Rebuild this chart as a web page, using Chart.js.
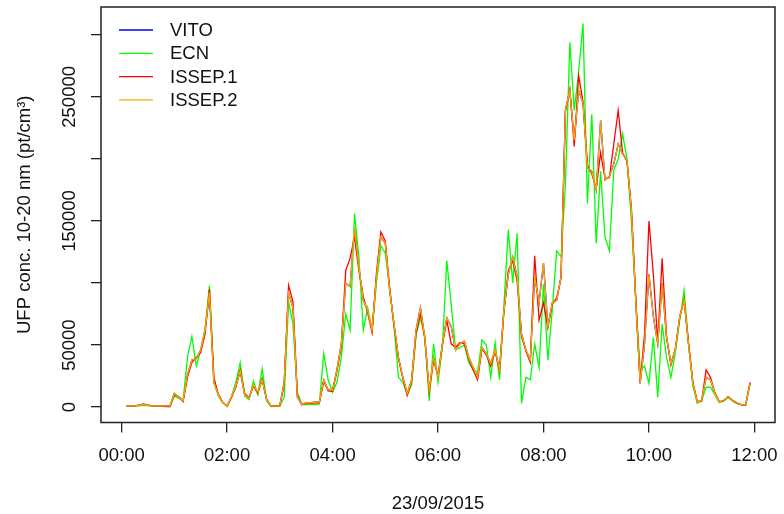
<!DOCTYPE html>
<html>
<head>
<meta charset="utf-8">
<script src="https://cdn.jsdelivr.net/npm/chart.js@4"></script>
<style>
  html, body { margin: 0; padding: 0; background: #fff; }
  #wrap { width: 784px; height: 514px; }
</style>
</head>
<body>
<div id="wrap"><canvas id="ufp" width="784" height="514"></canvas></div>
<script>
// 5-minute readings, 00:05 -> 11:55 on 23/09/2015
const startMinute = 5;
const stepMinutes = 5;

const seriesNames = ['VITO', 'ECN', 'ISSEP.1', 'ISSEP.2'];
const seriesColors = ['#0000FF', '#00FF00', '#FF0000', '#FFA500'];

const xTicks = [0, 120, 240, 360, 480, 600, 720];
const yTicks = [0, 50000, 100000, 150000, 200000, 250000, 300000];
const yTickLabels = ['0', '50000', '', '150000', '', '250000', ''];

const vito = [
  1000, 1000, 1000, 1500, 2000, 1500, 1000, 1000, 1000, 1000,
  1000, 11000, 8000, 5000, 26000, 38000, 39000, 46000, 62000, 92000,
  20000, 10000, 4000, 800, 8300, 17000, 29000, 10000, 7000, 18000,
  12000, 22000, 6000, 1000, 800, 1000, 20000, 92000, 80000, 8300,
  2000, 3500, 3500, 4000, 4000, 22000, 14000, 13500, 30000, 51000,
  100000, 97000, 145000, 113000, 86000, 78000, 62000, 105000, 137000, 132000,
  94000, 67000, 40000, 24000, 11000, 21700, 62000, 80000, 56000, 13700,
  40000, 24000, 51000, 72000, 65000, 46000, 51000, 53000, 40000, 32000,
  24000, 48000, 43000, 35000, 46000, 30000, 78000, 107000, 121000, 105000,
  59000, 46000, 38000, 105000, 84000, 116000, 65000, 84000, 86000, 105000,
  240000, 255000, 215000, 255000, 245000, 193000, 190000, 175000, 231000, 183000,
  186000, 196000, 212000, 204000, 199000, 159000, 86000, 19000, 51000, 107000,
  73000, 51000, 100000, 56000, 35000, 46000, 73000, 86000, 51000, 19000,
  4000, 5500, 24000, 22000, 11000, 4000, 5500, 8000, 5500, 3500,
  1800, 1800, 19000
];

const ecn = [
  1000, 1000, 1000, 1200, 1500, 1200, 1000, 1000, 1000, 800,
  500, 9000, 7000, 5500, 40000, 57000, 33000, 46000, 63000, 98000,
  22000, 9000, 3500, 500, 8000, 20000, 36000, 9000, 6000, 21000,
  10000, 31000, 5000, 500, 600, 800, 8000, 85000, 67000, 12000,
  2000, 2000, 2500, 2000, 2500, 43000, 22000, 12000, 20000, 40000,
  75000, 62000, 156000, 121000, 62000, 80000, 62000, 100000, 130000, 124000,
  96000, 65000, 24000, 20000, 10000, 18000, 58000, 72000, 58000, 5000,
  51000, 20000, 48000, 118000, 83000, 46000, 48000, 50000, 36000, 30000,
  28000, 54000, 50000, 24000, 52000, 22000, 82000, 143000, 100000, 140000,
  3000, 24000, 22000, 51000, 32000, 99000, 38000, 78000, 126000, 121000,
  180000, 294000, 239000, 270000, 309000, 164000, 236000, 132000, 190000, 137000,
  126000, 191000, 200000, 220000, 200000, 150000, 86000, 30000, 33000, 19000,
  56000, 8000, 67000, 40000, 24000, 44000, 70000, 94000, 51000, 17000,
  3000, 5000, 16000, 16000, 10000, 3500, 5000, 7500, 5000, 3000,
  2000, 2000, 19000
];

const issep1 = [
  1000, 1000, 1000, 1500, 2500, 1500, 1000, 1000, 1000, 500,
  500, 10000, 8500, 4500, 24000, 36000, 40000, 44000, 59000, 95000,
  24000, 10500, 4000, 800, 7500, 16000, 30000, 11000, 7500, 17000,
  11000, 23000, 6500, 1000, 800, 1200, 18000, 98000, 85000, 9500,
  2000, 3000, 3000, 3500, 3500, 21000, 13000, 12500, 29000, 49000,
  110000, 120000, 137000, 110000, 89000, 76000, 60000, 108000, 141000, 134000,
  96000, 65000, 39000, 23000, 9500, 21000, 59000, 76000, 55000, 12000,
  38000, 25000, 50000, 70000, 51000, 48000, 52000, 51000, 39000, 30000,
  22000, 47000, 42000, 33000, 45000, 29000, 77000, 110000, 118000, 102000,
  57000, 45000, 36000, 122000, 70000, 84000, 64000, 83000, 88000, 104000,
  238000, 256000, 210000, 267000, 246000, 195000, 188000, 176000, 205000, 184000,
  185000, 212000, 239000, 205000, 198000, 160000, 87000, 20000, 59000, 150000,
  107000, 52000, 120000, 57000, 34000, 47000, 72000, 87000, 52000, 20000,
  4500, 5000, 30000, 24000, 11500, 4500, 5000, 8500, 5500, 3000,
  2000, 1500, 20000
];

const issep2 = [
  1000, 1000, 1000, 1500, 2000, 1500, 1000, 1000, 1000, 1000,
  1000, 11000, 8000, 5000, 26000, 38000, 39000, 46000, 62000, 92000,
  20000, 10000, 4000, 800, 8300, 17000, 29000, 10000, 7000, 18000,
  12000, 22000, 6000, 1000, 800, 1000, 20000, 92000, 80000, 8300,
  2000, 3500, 3500, 4000, 4000, 22000, 14000, 13500, 30000, 51000,
  100000, 97000, 145000, 113000, 86000, 78000, 62000, 105000, 137000, 132000,
  94000, 67000, 40000, 24000, 11000, 21700, 62000, 80000, 56000, 13700,
  40000, 24000, 51000, 72000, 65000, 46000, 51000, 53000, 40000, 32000,
  24000, 48000, 43000, 35000, 46000, 30000, 78000, 107000, 121000, 105000,
  59000, 46000, 38000, 105000, 84000, 116000, 65000, 84000, 86000, 105000,
  240000, 255000, 215000, 255000, 245000, 193000, 190000, 175000, 231000, 183000,
  186000, 196000, 212000, 204000, 199000, 159000, 86000, 19000, 51000, 107000,
  73000, 51000, 100000, 56000, 35000, 46000, 73000, 86000, 51000, 19000,
  4000, 5500, 24000, 22000, 11000, 4000, 5500, 8000, 5500, 3500,
  1800, 1800, 19000
];

const allSeries = [vito, ecn, issep1, issep2];
const FONT = '"Liberation Sans", Arial, sans-serif';

function toPoints(values) {
  return values.map((v, i) => ({ x: startMinute + i * stepMinutes, y: v }));
}

function hhmm(minutes) {
  let h = Math.floor(minutes / 60);
  let m = minutes % 60;
  return String(h).padStart(2, '0') + ':' + String(m).padStart(2, '0');
}

// box, rotated y labels, titles and the legend in the old base-graphics look
const rStyle = {
  id: 'rStyle',
  afterDraw(chart) {
    const ctx = chart.ctx;
    const area = chart.chartArea;
    const yScale = chart.scales.y;
    ctx.save();

    ctx.strokeStyle = '#222';
    ctx.lineWidth = 1.5;
    ctx.strokeRect(area.left, area.top, area.right - area.left, area.bottom - area.top);

    ctx.fillStyle = '#111';
    ctx.font = '18.5px ' + FONT;
    ctx.textAlign = 'center';
    ctx.textBaseline = 'alphabetic';
    for (let i = 0; i < yTicks.length; i++) {
      if (!yTickLabels[i]) continue;
      let py = yScale.getPixelForValue(yTicks[i]);
      ctx.save();
      ctx.translate(75, py);
      ctx.rotate(-Math.PI / 2);
      ctx.fillText(yTickLabels[i], 0, 0);
      ctx.restore();
    }

    // axis titles
    ctx.save();
    ctx.translate(30, (area.top + area.bottom) / 2);
    ctx.rotate(-Math.PI / 2);
    ctx.fillText('UFP conc. 10-20 nm (pt/cm³)', 0, 0);
    ctx.restore();
    ctx.fillText('23/09/2015', (area.left + area.right) / 2, 509);

    // legend, top left inside the box
    ctx.textAlign = 'left';
    ctx.textBaseline = 'middle';
    chart.data.datasets.forEach((ds, i) => {
      let ly = 30 + i * 23.3;
      ctx.strokeStyle = ds.borderColor;
      ctx.lineWidth = 1.3;
      ctx.beginPath();
      ctx.moveTo(119, ly);
      ctx.lineTo(153, ly);
      ctx.stroke();
      ctx.fillStyle = '#111';
      ctx.fillText(ds.label, 170, ly + 1);
    });

    ctx.restore();
  }
};

new Chart(document.getElementById('ufp'), {
  type: 'line',
  data: {
    datasets: seriesNames.map((name, i) => ({
      label: name,
      data: toPoints(allSeries[i]),
      borderColor: seriesColors[i],
      borderWidth: 1.3,
      pointRadius: 0,
      tension: 0,
      fill: false,
      order: seriesNames.length - i
    }))
  },
  options: {
    responsive: false,
    animation: false,
    events: [],
    layout: { padding: { left: 0, right: 9, top: 7, bottom: 0 } },
    plugins: { legend: { display: false }, tooltip: { enabled: false } },
    scales: {
      x: {
        type: 'linear',
        min: -23.4,
        max: 743.4,
        afterBuildTicks: (s) => { s.ticks = xTicks.map(v => ({ value: v })); },
        afterFit: (s) => {
          s.height = 91.5;
          s.paddingLeft = 0;
          s.paddingRight = 0;
        },
        border: { display: false },
        grid: { drawOnChartArea: false, drawTicks: true, tickLength: 10, color: '#222', lineWidth: 1.3 },
        ticks: {
          autoSkip: false,
          maxRotation: 0,
          padding: 12,
          color: '#111',
          font: { family: FONT, size: 18.5 },
          callback: (v) => hhmm(v)
        }
      },
      y: {
        type: 'linear',
        min: -12400,
        max: 322400,
        afterBuildTicks: (s) => { s.ticks = yTicks.map(v => ({ value: v })); },
        afterFit: (s) => { s.width = 101; },
        border: { display: false },
        grid: { drawOnChartArea: false, drawTicks: true, tickLength: 10, color: '#222', lineWidth: 1.3 },
        ticks: { display: false }
      }
    }
  },
  plugins: [rStyle]
});
</script>
</body>
</html>
